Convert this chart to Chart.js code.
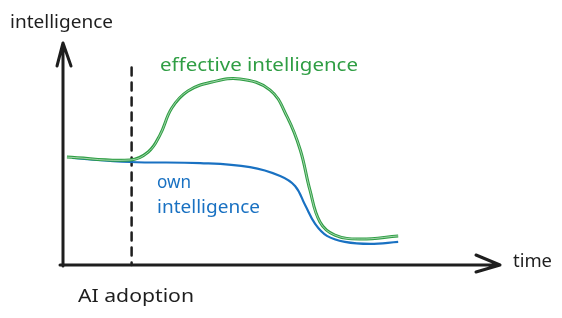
<!DOCTYPE html>
<html>
<head>
<meta charset="utf-8">
<script src="https://cdn.jsdelivr.net/npm/chart.js@4"></script>
<style>
  html, body { margin: 0; padding: 0; background: #fff; }
  #wrap { width: 562px; height: 318px; }
</style>
</head>
<body>
<div id="wrap"><canvas id="sketch"></canvas></div>
<script>
// values (time 0..100, intelligence 0..100)
var effectiveTime = [0.9, 15.3, 19.5, 22.2, 24.9, 28.6, 34.1, 40.5, 47.4, 51.3, 54.3, 56.5, 58.8, 62.2, 68.0, 76.7];
var effectiveVals = [48.6, 47.3, 50.9, 58.6, 70.7, 78.4, 82.4, 83.8, 78.8, 66.7, 51.8, 33.8, 19.4, 13.5, 11.7, 13.1];
var ownTime = [2.1, 15.3, 31.4, 42.8, 49.7, 53.1, 55.4, 57.7, 60.4, 64.5, 70.3, 76.7];
var ownVals = [48.2, 46.4, 45.9, 44.1, 40.1, 35.6, 27.0, 18.5, 13.1, 10.4, 9.5, 10.4];
var adoptionTime = 15.7;

var seriesNames = ["effective intelligence", "own intelligence"];
var axisNames = ["time", "intelligence"];
var markerName = "AI adoption";

var GREEN = "#2f9e44", BLUE = "#1971c2", INK = "#1e1e1e";
var FONT = '"Noto Sans", sans-serif';

function pts(xs, ys) {
  return xs.map(function (x, i) { return { x: x, y: ys[i] }; });
}

// text squeezed/stretched to a width, like the hand-drawn labels
function label(ctx, txt, x, y, w, size, color) {
  ctx.save();
  ctx.font = size + "px " + FONT;
  ctx.fillStyle = color;
  ctx.textBaseline = "alphabetic";
  var m = ctx.measureText(txt).width;
  ctx.translate(x, y);
  ctx.scale(w / m, 1);
  ctx.fillText(txt, 0, 0);
  ctx.restore();
}

var sketchPlugin = {
  id: "sketch",
  beforeDatasetsDraw: function (chart) {
    var ctx = chart.ctx, xs = chart.scales.x, ys = chart.scales.y;
    var left = xs.getPixelForValue(0), bottom = ys.getPixelForValue(0);
    var top = ys.getPixelForValue(100), right = xs.getPixelForValue(100);
    ctx.save();
    ctx.strokeStyle = INK;
    ctx.lineCap = "round";
    ctx.lineJoin = "round";
    // adoption marker
    var ax = xs.getPixelForValue(adoptionTime);
    ctx.lineWidth = 2.5;
    ctx.setLineDash([8, 7]);
    ctx.beginPath();
    ctx.moveTo(ax, ys.getPixelForValue(89));
    ctx.lineTo(ax, bottom);
    ctx.stroke();
    ctx.setLineDash([]);
    // axes
    ctx.lineWidth = 3;
    ctx.beginPath();
    ctx.moveTo(left, bottom + 1);
    ctx.lineTo(left, top);
    ctx.moveTo(left - 6 , top + 23);
    ctx.lineTo(left, top);
    ctx.lineTo(left + 8, top + 23);
    ctx.moveTo(left - 3, bottom);
    ctx.lineTo(right, bottom);
    ctx.moveTo(right - 24, bottom - 10);
    ctx.lineTo(right, bottom);
    ctx.lineTo(right - 24, bottom + 7);
    ctx.stroke();
    ctx.restore();
  },
  afterDatasetDraw: function (chart, args) {
    if (args.index !== 0) return;
    // thin light core makes the green stroke look double-drawn
    var ctx = chart.ctx, line = args.meta.dataset;
    try {
      ctx.save();
      ctx.strokeStyle = "rgba(255,255,255,0.7)";
      ctx.lineWidth = 0.8;
      ctx.beginPath();
      line.path(ctx);
      ctx.stroke();
      ctx.restore();
    } catch (e) { ctx.restore(); }
  },
  afterDraw: function (chart) {
    var ctx = chart.ctx;
    label(ctx, axisNames[1], 10, 28, 103, 18, INK);
    label(ctx, axisNames[0], 513, 267, 39, 18, INK);
    label(ctx, markerName, 78, 302, 116, 18, INK);
    label(ctx, seriesNames[0], 160, 71, 198, 18, GREEN);
    var own = seriesNames[1].split(" ");
    label(ctx, own[0], 157, 188, 34, 18, BLUE);
    label(ctx, own[1], 157, 213, 103, 18, BLUE);
  }
};

new Chart(document.getElementById("sketch"), {
  type: "line",
  data: {
    datasets: [
      { label: seriesNames[0], data: pts(effectiveTime, effectiveVals), borderColor: GREEN, borderWidth: 3, tension: 0.4 },
      { label: seriesNames[1], data: pts(ownTime, ownVals), borderColor: BLUE, borderWidth: 2.2, tension: 0.4 }
    ]
  },
  options: {
    responsive: true,
    maintainAspectRatio: false,
    animation: false,
    layout: { padding: { left: 63, right: 62, top: 43, bottom: 53 } },
    elements: { point: { radius: 0 } },
    scales: {
      x: { type: "linear", min: 0, max: 100, display: false },
      y: { min: 0, max: 100, display: false }
    },
    plugins: { legend: { display: false }, tooltip: { enabled: false } }
  },
  plugins: [sketchPlugin]
});
</script>
</body>
</html>
